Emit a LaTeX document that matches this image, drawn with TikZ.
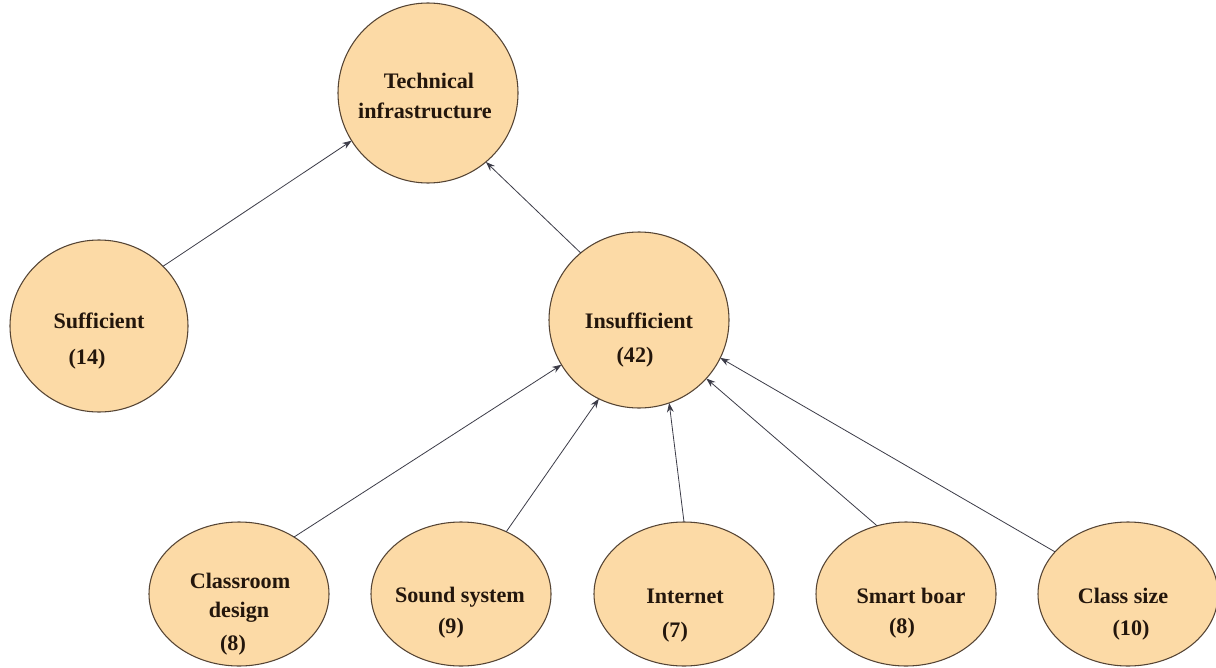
\documentclass[tikz,border=0pt]{standalone}
\usepackage{fontspec}
\setmainfont{Liberation Serif}
\usetikzlibrary{shapes.geometric,arrows.meta}
\definecolor{nodefill}{RGB}{252,218,166}
\definecolor{nodeline}{RGB}{85,68,52}
\definecolor{arrowcol}{RGB}{60,60,72}
\definecolor{textcol}{RGB}{35,22,12}
\begin{document}
\begin{tikzpicture}[x=0.75pt,y=-0.75pt,
  bubble/.style={ellipse,draw=nodeline,fill=nodefill,line width=0.8pt,inner sep=0pt,outer sep=0pt},
  bottombubble/.style={bubble,minimum width=135pt,minimum height=108pt},
  lbl/.style={anchor=base,inner sep=0pt,outer sep=0pt,font=\bfseries\fontsize{16.6}{20}\selectfont,text=textcol},
  conn/.style={draw=arrowcol,line width=0.6pt,-{Stealth[length=7pt,width=5pt]}}]
\useasboundingbox (0,0) rectangle (1216,667);
\fill[white] (0,0) rectangle (1216,667);
% shapes
\node[bubble,minimum width=135pt,minimum height=135pt] (tech) at (428,93) {};
\node[bubble,minimum width=133.5pt,minimum height=129pt] (suff) at (99,326) {};
\node[bubble,minimum width=135pt,minimum height=132pt] (ins) at (639,320) {};
\node[bottombubble] (cd) at (239,594) {};
\node[bottombubble] (ss) at (461,594) {};
\node[bottombubble] (int) at (684,594) {};
\node[bottombubble] (sb) at (906,594) {};
\node[bottombubble] (cs) at (1128,594) {};
% labels
\node[lbl] (techA) at (429,89) {Technical};
\node[lbl] (techB) at (425,118) {infrastructure};
\node[lbl] (suffA) at (99,328) {Sufficient};
\node[lbl] (suffB) at (87,364) {(14)};
\node[lbl] (insA) at (639,328) {Insufficient};
\node[lbl] (insB) at (635,362) {(42)};
\node[lbl] (cdA) at (240,588) {Classroom};
\node[lbl] (cdB) at (239,617) {design};
\node[lbl] (cdC) at (233,650) {(8)};
\node[lbl] (ssA) at (460,602) {Sound system};
\node[lbl] (ssB) at (451,633) {(9)};
\node[lbl] (intA) at (685,603) {Internet};
\node[lbl] (intB) at (675,637) {(7)};
\node[lbl] (sbA) at (911,603) {Smart boar};
\node[lbl] (sbB) at (902,633) {(8)};
\node[lbl] (csA) at (1123,603) {Class size};
\node[lbl] (csB) at (1131,635) {(10)};
% connectors
\draw[conn] (suff.43) -- (tech.212);
\draw[conn] (ins.131.5) -- (tech.310);
\draw[conn] (cd.46.5) -- (ins.210);
\draw[conn] (ss.54) -- (ins.243);
\draw[conn] (int.90) -- (ins.290);
\draw[conn] (sb.113.5) -- (ins.319);
\draw[conn] (cs.150) -- (ins.335);
\end{tikzpicture}
\end{document}
